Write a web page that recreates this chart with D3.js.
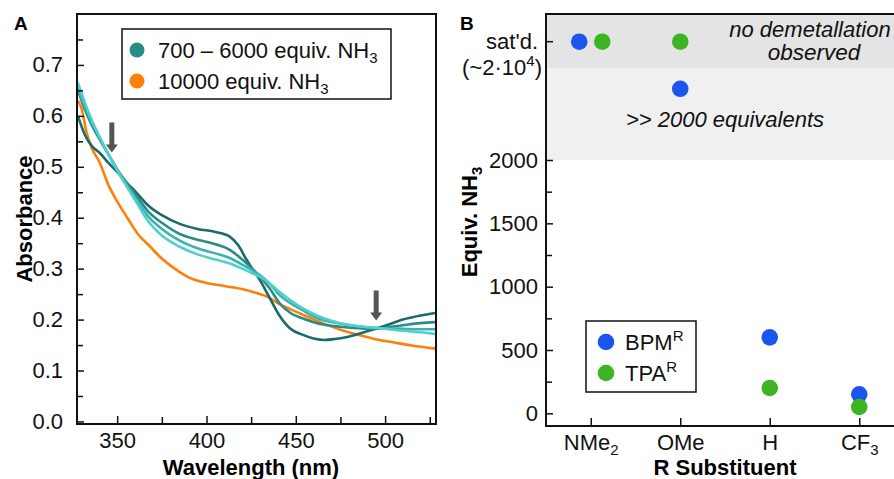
<!DOCTYPE html>
<html>
<head>
<meta charset="utf-8">
<script src="https://cdn.jsdelivr.net/npm/d3@7"></script>
<style>
  body { margin: 0; background: #fff; }
  svg { font-family: "Liberation Sans", Arial, Helvetica, sans-serif; display: block; }
</style>
</head>
<body>
<svg id="chart" width="894" height="479"></svg>
<script>
// ---- Panel A data: absorbance spectra ----
var wl1 = [328,332,336,340,345,350,355,360,368,375,385,395,405,413,418,422,426,430,435,441,447,454,460,466,472,480,490,500,510,520,528];
var abs1 = [0.600,0.562,0.540,0.528,0.508,0.490,0.470,0.452,0.422,0.405,0.388,0.378,0.372,0.363,0.345,0.320,0.298,0.277,0.245,0.207,0.182,0.170,0.163,0.160,0.162,0.167,0.177,0.188,0.200,0.208,0.213];

var wl2 = [328,332,336,340,345,350,355,360,368,375,385,395,405,413,420,425,430,435,441,447,454,460,466,475,485,494,500,510,520,528];
var abs2 = [0.650,0.612,0.580,0.555,0.525,0.495,0.470,0.447,0.410,0.390,0.368,0.357,0.348,0.337,0.318,0.302,0.284,0.263,0.232,0.213,0.202,0.195,0.190,0.186,0.183,0.182,0.184,0.189,0.193,0.195];
var abs3 = [0.655,0.618,0.585,0.558,0.525,0.494,0.466,0.440,0.400,0.378,0.355,0.340,0.330,0.321,0.308,0.298,0.287,0.272,0.248,0.232,0.218,0.206,0.198,0.192,0.187,0.184,0.183,0.182,0.181,0.181];
var abs4 = [0.665,0.625,0.590,0.560,0.525,0.493,0.463,0.435,0.390,0.365,0.343,0.328,0.318,0.310,0.300,0.292,0.284,0.272,0.254,0.238,0.222,0.211,0.202,0.193,0.187,0.184,0.182,0.178,0.175,0.172];

var wlOrange = [328,330,333,336,340,345,350,356,362,368,374,383,390,400,410,420,428,434,440,446,455,465,475,485,494,505,515,528];
var absOrange = [0.630,0.615,0.565,0.535,0.510,0.465,0.432,0.398,0.366,0.345,0.323,0.298,0.283,0.272,0.266,0.260,0.252,0.245,0.232,0.222,0.208,0.193,0.180,0.170,0.162,0.155,0.149,0.143];

var tealColors = ["#1b6b68", "#2a8c88", "#3bb2af", "#50d0cd"];
var legendA = ["700 \u2013 6000 equiv. NH", "10000 equiv. NH"];

// ---- Panel B data: equivalents NH3 for demetallation ----
var substituents = ["NMe2", "OMe", "H", "CF3"];
var bpm = [20000, 8000, 600, 150];   // 20000 = sat'd
var tpa = [20000, 20000, 200, 50];
var satValue = 20000;

var svg = d3.select("#chart");

// =================== Panel A ===================
var A = { left: 77, right: 436, top: 14, bottom: 424 };

var xA = d3.scaleLinear().domain([327.5, 528.5]).range([A.left, A.right]);
var yA = d3.scaleLinear().domain([-0.005, 0.8]).range([A.bottom, A.top]);

svg.append("clipPath").attr("id", "clipA")
  .append("rect")
    .attr("x", A.left).attr("y", A.top)
    .attr("width", A.right - A.left).attr("height", A.bottom - A.top);

var line = d3.line()
  .x(function(d){ return xA(d[0]); })
  .y(function(d){ return yA(d[1]); })
  .curve(d3.curveMonotoneX);

var series = [
  { wl: wlOrange, abs: absOrange, color: "#ff7f0a" },
  { wl: wl1, abs: abs1, color: tealColors[0] },
  { wl: wl2, abs: abs2, color: tealColors[1] },
  { wl: wl2, abs: abs3, color: tealColors[2] },
  { wl: wl2, abs: abs4, color: tealColors[3] }
];

svg.append("g").attr("clip-path", "url(#clipA)")
  .selectAll("path")
  .data(series)
  .enter()
  .append("path")
    .attr("d", function(s){ return line(d3.zip(s.wl, s.abs)); })
    .attr("fill", "none")
    .attr("stroke", function(s){ return s.color; })
    .attr("stroke-width", 2.6);

// arrows (isosbestic points)
var arrowsA = [[347, 0.587, 0.528], [495, 0.257, 0.198]];
arrowsA.forEach(function(a){
  var x = xA(a[0]), y0 = yA(a[1]), y1 = yA(a[2]);
  svg.append("path")
    .attr("d", "M" + (x - 2.5) + "," + y0 + "V" + (y1 - 8) + "H" + (x - 6) +
      "L" + x + "," + y1 + "L" + (x + 6) + "," + (y1 - 8) + "H" + (x + 2.5) + "V" + y0 + "Z")
    .attr("fill", "#555");
});

// axes A
svg.append("g")
  .attr("transform", "translate(0," + A.bottom + ")")
  .call(d3.axisBottom(xA).tickValues([350, 400, 450, 500]).tickSize(-8).tickSizeOuter(0).tickPadding(8));
svg.append("g")
  .attr("transform", "translate(0," + A.bottom + ")")
  .call(d3.axisBottom(xA).tickValues([375, 425, 475, 525]).tickSize(-7).tickSizeOuter(0).tickFormat(""));

svg.append("g")
  .attr("transform", "translate(" + A.left + ",0)")
  .call(d3.axisLeft(yA).tickValues(d3.range(0, 8).map(function(i){ return i / 10; }))
    .tickFormat(d3.format(".1f")).tickSize(-7).tickSizeOuter(0).tickPadding(14));
svg.append("g")
  .attr("transform", "translate(" + A.left + ",0)")
  .call(d3.axisLeft(yA).tickValues(d3.range(0, 8).map(function(i){ return i / 10 + 0.05; }))
    .tickSize(-6).tickSizeOuter(0).tickFormat(""));

svg.append("rect")
  .attr("x", A.left).attr("y", A.top)
  .attr("width", A.right - A.left).attr("height", A.bottom - A.top)
  .attr("fill", "none").attr("stroke", "#111").attr("stroke-width", 2);

// legend A
svg.append("rect")
  .attr("x", 122).attr("y", 29).attr("width", 269).attr("height", 70)
  .attr("fill", "#fff").attr("stroke", "#111").attr("stroke-width", 1.5);
[tealColors[1], "#ff7f0a"].forEach(function(c, i){
  svg.append("circle").attr("cx", 137).attr("cy", 50 + i * 31).attr("r", 7.5).attr("fill", c);
  var t = svg.append("text").attr("x", 158).attr("y", 58 + i * 31)
    .attr("font-size", 22).attr("fill", "#111").text(legendA[i]);
  t.append("tspan").attr("font-size", 15).attr("dy", 5).text("3");
});

svg.append("text").attr("x", 251).attr("y", 475).attr("text-anchor", "middle")
  .attr("font-size", 22).attr("font-weight", "bold").text("Wavelength (nm)");
svg.append("text").attr("transform", "translate(32,219) rotate(-90)").attr("text-anchor", "middle")
  .attr("font-size", 22).attr("font-weight", "bold").text("Absorbance");
svg.append("text").attr("x", 14).attr("y", 30)
  .attr("font-size", 19).attr("font-weight", "bold").text("A");

// =================== Panel B ===================
var B = { left: 546, right: 904, top: 14, bottom: 426 };

var xB = d3.scalePoint().domain(substituents).range([B.left, B.right]).padding(0.5);
var yLin = d3.scaleLinear().domain([-100, 2000]).range([B.bottom, 160]);
var yLog = d3.scaleLog().domain([2000, satValue]).range([160, 41.7]);
function yB(v){ return v <= 2000 ? yLin(v) : yLog(v); }
var bandSplit = 12000;

// shaded regions
svg.append("rect")
  .attr("x", B.left).attr("y", yB(bandSplit))
  .attr("width", B.right - B.left).attr("height", yB(2000) - yB(bandSplit))
  .attr("fill", "#f0f0f0");
svg.append("rect")
  .attr("x", B.left).attr("y", B.top)
  .attr("width", B.right - B.left).attr("height", yB(bandSplit) - B.top)
  .attr("fill", "#e4e4e4");

svg.append("text").attr("x", 810).attr("y", 37).attr("text-anchor", "middle")
  .attr("font-size", 22).attr("font-style", "italic").attr("fill", "#111").text("no demetallation");
svg.append("text").attr("x", 814).attr("y", 60).attr("text-anchor", "middle")
  .attr("font-size", 22.5).attr("font-style", "italic").attr("fill", "#111").text("observed");
svg.append("text").attr("x", 725).attr("y", 127).attr("text-anchor", "middle")
  .attr("font-size", 22).attr("font-style", "italic").attr("fill", "#111").text(">> 2000 equivalents");

// points
var pts = [];
substituents.forEach(function(s, i){
  var dodge = (bpm[i] === satValue && tpa[i] === satValue) ? 11.5 : 0;
  pts.push({ cat: s, v: bpm[i], color: "#1a56ee", dx: -dodge });
  pts.push({ cat: s, v: tpa[i], color: "#3cb424", dx: dodge });
});
svg.append("g").selectAll("circle")
  .data(pts)
  .enter()
  .append("circle")
    .attr("cx", function(d){ return xB(d.cat) + d.dx; })
    .attr("cy", function(d){ return yB(d.v); })
    .attr("r", 8.3)
    .attr("fill", function(d){ return d.color; });

// axes B
var xAxisB = svg.append("g")
  .attr("transform", "translate(0," + B.bottom + ")")
  .call(d3.axisBottom(xB).tickSize(-8).tickSizeOuter(0).tickPadding(10).tickFormat(""));
xAxisB.selectAll(".tick").append("text")
  .attr("y", 24).attr("text-anchor", "middle").attr("font-size", 22).attr("fill", "#111")
  .each(function(d){
    var t = d3.select(this);
    var m = d.match(/^(\D+)(\d*)$/);
    t.append("tspan").text(m[1]);
    if (m[2]) t.append("tspan").attr("font-size", 15).attr("dy", 5).text(m[2]);
  });

svg.append("g")
  .attr("transform", "translate(" + B.left + ",0)")
  .call(d3.axisLeft(yLin).tickValues([0, 500, 1000, 1500, 2000]).tickFormat(d3.format("d"))
    .tickSize(-7).tickSizeOuter(0).tickPadding(8));
svg.append("g")
  .attr("transform", "translate(" + B.left + ",0)")
  .call(d3.axisLeft(yLin).tickValues([250, 750, 1250, 1750]).tickSize(-6).tickSizeOuter(0).tickFormat(""));
svg.append("line")
  .attr("x1", B.left).attr("x2", B.left + 7).attr("y1", yB(satValue)).attr("y2", yB(satValue))
  .attr("stroke", "#111").attr("stroke-width", 1.5);

svg.append("text").attr("x", 538).attr("y", yB(satValue) + 7).attr("text-anchor", "end")
  .attr("font-size", 22).attr("fill", "#111").text("sat'd.");
var sl = svg.append("text").attr("x", 542).attr("y", 75).attr("text-anchor", "end")
  .attr("font-size", 22).attr("fill", "#111");
sl.append("tspan").text("(~2\u00b710");
sl.append("tspan").attr("font-size", 15).attr("dy", -9).text("4");
sl.append("tspan").attr("dy", 9).text(")");

// frame B (left, top, bottom)
svg.append("path")
  .attr("d", "M" + B.right + "," + B.top + "H" + B.left + "V" + B.bottom + "H" + B.right)
  .attr("fill", "none").attr("stroke", "#111").attr("stroke-width", 2);

// legend B
svg.append("rect")
  .attr("x", 586).attr("y", 321).attr("width", 110).attr("height", 71)
  .attr("fill", "#fff").attr("stroke", "#111").attr("stroke-width", 1.5);
[["#1a56ee", "BPM"], ["#3cb424", "TPA"]].forEach(function(e, i){
  svg.append("circle").attr("cx", 606).attr("cy", 342 + i * 31).attr("r", 8.3).attr("fill", e[0]);
  var t = svg.append("text").attr("x", 625).attr("y", 350 + i * 31)
    .attr("font-size", 22).attr("fill", "#111").text(e[1]);
  t.append("tspan").attr("font-size", 15).attr("dy", -9).text("R");
});

svg.append("text").attr("x", 725).attr("y", 475).attr("text-anchor", "middle")
  .attr("font-size", 22).attr("font-weight", "bold").text("R Substituent");
var yt = svg.append("text").attr("transform", "translate(477,222) rotate(-90)").attr("text-anchor", "middle")
  .attr("font-size", 22).attr("font-weight", "bold").text("Equiv. NH");
yt.append("tspan").attr("font-size", 15).attr("dy", 5).text("3");
svg.append("text").attr("x", 460).attr("y", 30)
  .attr("font-size", 19).attr("font-weight", "bold").text("B");

// common axis styling
svg.selectAll(".tick text").attr("font-size", 22).attr("fill", "#111")
  .attr("font-family", "'Liberation Sans', Arial, Helvetica, sans-serif");
svg.selectAll(".tick line").attr("stroke", "#111").attr("stroke-width", 1.5);
svg.selectAll(".domain").remove();
</script>
</body>
</html>
